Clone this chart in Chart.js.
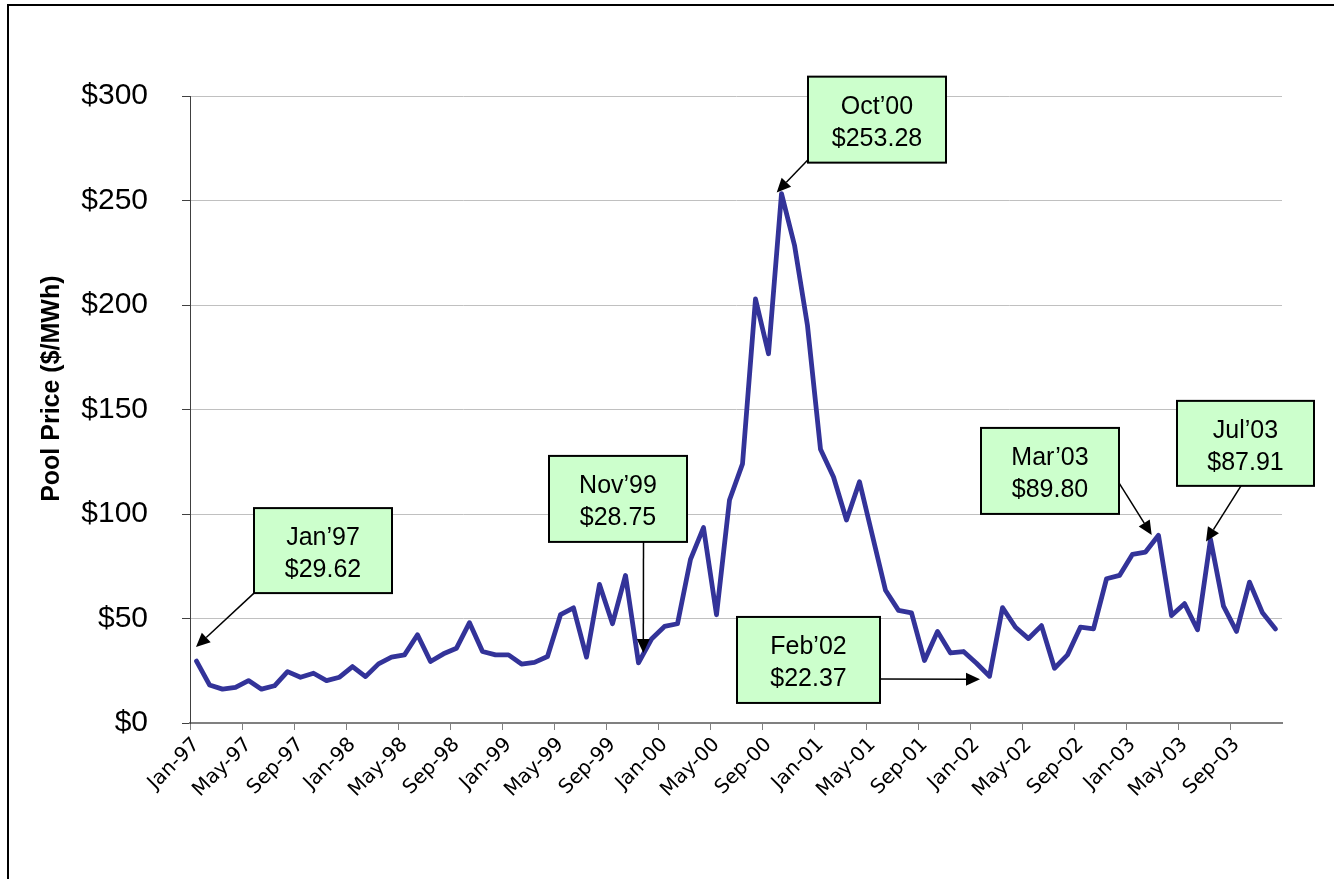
<!DOCTYPE html>
<html>
<head>
<meta charset="utf-8">
<script src="https://cdn.jsdelivr.net/npm/chart.js@4.4.0/dist/chart.umd.min.js"></script>
<style>
  html, body { margin: 0; padding: 0; background: #fff; overflow: hidden; }
  #frame { position: absolute; left: 7px; top: 4px; width: 1400px; height: 1000px;
           border-left: 2px solid #000; border-top: 2px solid #000; }
  #chart { position: absolute; left: 0; top: 0; }
</style>
</head>
<body>
<div id="frame"></div>
<canvas id="chart" width="1334" height="879"></canvas>
<script>
// monthly pool price, $/MWh
const months = ['Jan', 'Feb', 'Mar', 'Apr', 'May', 'Jun', 'Jul', 'Aug', 'Sep', 'Oct', 'Nov', 'Dec'];
const years = ['97', '98', '99', '00', '01', '02', '03'];

const price1997 = [29.62, 18.2, 16.2, 17.1, 20.3, 16.2, 17.8, 24.6, 21.9, 23.8, 20.3, 21.9];
const price1998 = [27.0, 22.2, 28.3, 31.5, 32.6, 42.2, 29.4, 33.1, 35.8, 48.0, 34.2, 32.6];
const price1999 = [32.6, 28.2, 29.0, 31.8, 51.8, 55.1, 31.5, 66.3, 47.5, 70.6, 28.75, 40.2];
const price2000 = [46.2, 47.5, 78.3, 93.5, 51.8, 106.7, 124.0, 202.9, 176.7, 253.28, 228.6, 190.1];
const price2001 = [131.0, 117.7, 97.1, 115.4, 89.5, 63.5, 53.9, 52.7, 29.9, 43.8, 33.5, 34.2];
const price2002 = [28.6, 22.37, 55.2, 45.8, 40.4, 46.6, 26.2, 32.6, 45.9, 45.0, 69.0, 70.6];
const price2003 = [80.7, 81.8, 89.80, 51.4, 57.1, 44.6, 87.91, 55.9, 43.8, 67.4, 52.7, 45.0];

const yTicks = [0, 50, 100, 150, 200, 250, 300];

// callout boxes (index into the monthly series)
const callouts = [
    { index: 0, title: 'Jan\u201997' },
    { index: 34, title: 'Nov\u201999' },
    { index: 45, title: 'Oct\u201900' },
    { index: 61, title: 'Feb\u201902' },
    { index: 74, title: 'Mar\u201903' },
    { index: 78, title: 'Jul\u201903' }
];

const prices = [].concat(price1997, price1998, price1999, price2000, price2001, price2002, price2003);
const labels = [];
years.forEach(y => months.forEach(m => labels.push(m + '-' + y)));

// box = [dx, dy, w, h] from the point, tail = point on box, tip = offset from the point
const calloutLayout = [
    { box: [57.5, -153, 138, 85], tail: [0, 85], tip: [-0.5, -14] },
    { box: [-89.5, -207, 138, 86], tail: [94.5, 86], tip: [4.8, -10] },
    { box: [26.5, -117, 138, 86], tail: [0, 83], tip: [-4.8, -1.2] },
    { box: [-252.5, -59.3, 143, 86], tail: [143, 62], tip: [-9.5, 3] },
    { box: [-177.5, -107.4, 138, 86], tail: [138, 55], tip: [-6.8, -0.4] },
    { box: [-33.5, -138.4, 137, 85], tail: [64, 85], tip: [-4.5, 2.3] }
];

const calloutPlugin = {
    id: 'callouts',
    afterDraw(chart) {
        const ctx = chart.ctx;
        const x = chart.scales.x, y = chart.scales.y;
        ctx.save();
        callouts.forEach((c, k) => {
            const L = calloutLayout[k];
            const px = x.getPixelForValue(c.index);
            const py = y.getPixelForValue(prices[c.index]);
            const bx = px + L.box[0], by = py + L.box[1], bw = L.box[2], bh = L.box[3];
            const tx = bx + L.tail[0], ty = by + L.tail[1];
            const hx = px + L.tip[0], hy = py + L.tip[1];

            // arrow
            const ang = Math.atan2(hy - ty, hx - tx);
            const headLen = 14, headW = 6.5;
            const baseX = hx - headLen * Math.cos(ang), baseY = hy - headLen * Math.sin(ang);
            ctx.strokeStyle = '#000';
            ctx.lineWidth = 1.5;
            ctx.beginPath();
            ctx.moveTo(tx, ty);
            ctx.lineTo(baseX, baseY);
            ctx.stroke();
            ctx.fillStyle = '#000';
            ctx.beginPath();
            ctx.moveTo(hx, hy);
            ctx.lineTo(baseX + headW * Math.sin(ang), baseY - headW * Math.cos(ang));
            ctx.lineTo(baseX - headW * Math.sin(ang), baseY + headW * Math.cos(ang));
            ctx.closePath();
            ctx.fill();

            // box
            ctx.fillStyle = '#ccffcc';
            ctx.fillRect(bx, by, bw, bh);
            ctx.lineWidth = 2;
            ctx.strokeRect(bx, by, bw, bh);
            ctx.fillStyle = '#000';
            ctx.font = '25px "Liberation Sans", Arial, sans-serif';
            ctx.textAlign = 'center';
            ctx.textBaseline = 'alphabetic';
            ctx.fillText(c.title, bx + bw / 2, by + 37);
            ctx.fillText('$' + prices[c.index].toFixed(2), bx + bw / 2, by + 69);
        });
        ctx.restore();
    }
};

new Chart(document.getElementById('chart'), {
    type: 'line',
    data: {
        labels: labels,
        datasets: [{
            data: prices,
            borderColor: '#333399',
            borderWidth: 4.8,
            borderJoinStyle: 'round',
            borderCapStyle: 'round',
            pointRadius: 0,
            tension: 0,
            fill: false
        }]
    },
    options: {
        responsive: false,
        animation: false,
        devicePixelRatio: 1,
        layout: { padding: { left: 0, top: 96, right: 52, bottom: 0 } },
        plugins: { legend: { display: false }, tooltip: { enabled: false } },
        scales: {
            x: {
                type: 'category',
                offset: true,
                border: { color: '#808080', width: 2 },
                grid: {
                    offset: true,
                    drawOnChartArea: false,
                    drawTicks: true,
                    tickLength: 7,
                    color: ctx => ctx.index % 4 === 0 ? '#808080' : 'rgba(0,0,0,0)'
                },
                ticks: {
                    autoSkip: false,
                    minRotation: 45,
                    maxRotation: 45,
                    padding: 3,
                    color: '#000',
                    font: { family: '"DejaVu Sans", Verdana, sans-serif', size: 20 },
                    callback: (v, i) => i % 4 === 0 ? labels[i] : ''
                },
                afterFit: s => { s.height = 156; }
            },
            y: {
                min: 0,
                max: 300,
                border: { color: '#404040', width: 1 },
                grid: { color: '#c0c0c0', tickColor: '#404040', tickLength: 8, lineWidth: 1 },
                afterBuildTicks: s => { s.ticks = yTicks.map(v => ({ value: v })); },
                ticks: {
                    padding: 34,
                    color: '#000',
                    font: { family: '"Liberation Sans", Arial, sans-serif', size: 30 },
                    callback: v => '$' + v
                },
                title: {
                    display: true,
                    text: '      Pool Price ($/MWh)',
                    color: '#000',
                    font: { family: '"Liberation Sans", Arial, sans-serif', size: 25, weight: 'bold' },
                    padding: { top: 37, bottom: 0 }
                },
                afterFit: s => { s.width = 190; }
            }
        }
    },
    plugins: [calloutPlugin]
});
</script>
</body>
</html>
